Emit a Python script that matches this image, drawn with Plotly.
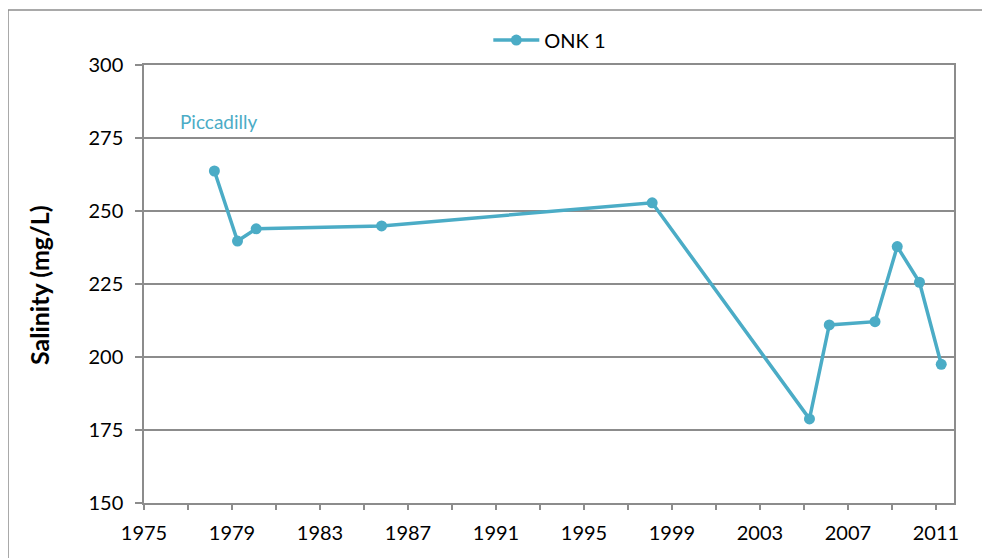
import plotly.graph_objects as go

years = [1978.2, 1979.25, 1980.1, 1985.8, 1998.1, 2005.25, 2006.15, 2008.23, 2009.24, 2010.25, 2011.24]
salinity = [263.7, 239.7, 243.9, 244.9, 252.8, 178.8, 211.0, 212.1, 237.8, 225.6, 197.5]
series_name = "ONK 1"
site_label = "Piccadilly"
x_tick_vals = [1975, 1979, 1983, 1987, 1991, 1995, 1999, 2003, 2007, 2011]
y_tick_vals = [150, 175, 200, 225, 250, 275, 300]

color = "#4BACC6"
grid = "#8C8C8C"
font_family = "Lato, 'Open Sans', sans-serif"

fig = go.Figure()
fig.add_trace(go.Scatter(
    x=years, y=salinity, mode="lines+markers", name=series_name,
    line=dict(color=color, width=3.5),
    marker=dict(color=color, size=11),
))

fig.update_layout(
    width=982, height=550,
    margin=dict(l=136, r=36, t=57, b=55),
    paper_bgcolor="white", plot_bgcolor="white",
    font=dict(family=font_family, size=20, color="#000000"),
    showlegend=True,
    legend=dict(x=0.501, y=1.057, xanchor="center", yanchor="middle",
                orientation="h", font=dict(size=20), bgcolor="rgba(0,0,0,0)",
                itemwidth=46),
    xaxis=dict(
        range=[1975, 2011.82], tickmode="array", tickvals=x_tick_vals,
        ticks="outside", ticklen=5, tickwidth=1.5, tickcolor=grid,
        minor=dict(tickmode="linear", tick0=1975, dtick=2, ticks="outside", ticklen=5, tickwidth=1.5, tickcolor=grid),
        showgrid=False, showline=True, linecolor=grid, linewidth=1.5, mirror=True,
        zeroline=False, ticklabelstandoff=6,
    ),
    yaxis=dict(
        range=[150, 300], tickmode="array", tickvals=y_tick_vals,
        ticks="outside", ticklen=7, tickwidth=1.5, tickcolor=grid,
        showgrid=True, gridcolor=grid, gridwidth=1.5,
        showline=True, linecolor=grid, linewidth=1.5, mirror=True,
        zeroline=False, ticklabelstandoff=8,
    ),
    annotations=[
        dict(text="Salinity (mg/L)", xref="paper", yref="paper", x=-0.1296, y=0.4977,
             textangle=-90, showarrow=False, font=dict(size=25, family=font_family, weight="bold"),
             xanchor="center", yanchor="middle"),
        dict(text=site_label, xref="paper", yref="paper", x=0.092, y=0.870,
             showarrow=False, font=dict(size=19, color=color, family=font_family),
             xanchor="center", yanchor="middle"),
    ],
    shapes=[
        dict(type="line", xref="paper", yref="paper", x0=-0.1679, y0=-0.3, x1=-0.1679, y1=1.1256,
             line=dict(color="#8C8C8C", width=1.5), layer="below"),
        dict(type="line", xref="paper", yref="paper", x0=-0.1679, y0=1.1256, x1=1.2, y1=1.1256,
             line=dict(color="#8C8C8C", width=1.5), layer="below"),
    ],
)

fig.write_html("out.html")
